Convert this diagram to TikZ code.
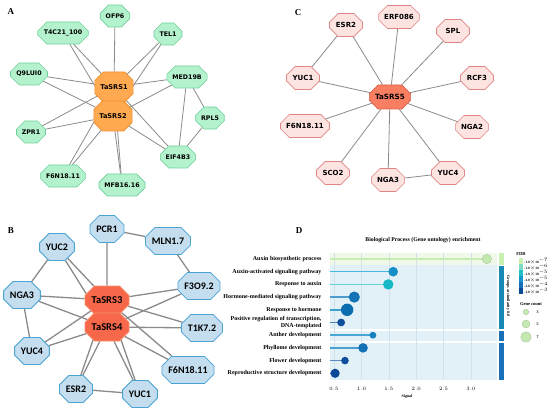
\documentclass[tikz,border=0pt]{standalone}
\usepackage{fontspec}
\setmainfont{Liberation Serif}
\newfontfamily\verdfont{DejaVu Sans}
\newfontfamily\califont{Carlito}
\usetikzlibrary{shapes.misc,backgrounds}

% node colours
\definecolor{mintfill}{HTML}{B4F2CE}
\definecolor{mintline}{HTML}{6CCF98}
\definecolor{orafill}{HTML}{FFAA50}
\definecolor{oraline}{HTML}{EE8F2E}
\definecolor{rosefill}{HTML}{FDE4E1}
\definecolor{roseline}{HTML}{E08585}
\definecolor{salmfill}{HTML}{FA7F62}
\definecolor{salmline}{HTML}{D9604A}
\definecolor{skyfill}{HTML}{C4DEEF}
\definecolor{skyline}{HTML}{4AA3D3}
\definecolor{redfill}{HTML}{F7674A}
\definecolor{redline}{HTML}{F8906F}
\definecolor{edgegray}{HTML}{8A8A8A}
% enrichment colours
\definecolor{bandgreen}{HTML}{F0F8EA}
\definecolor{bandblue}{HTML}{E2F0F7}
\definecolor{gridline}{HTML}{D3E2EA}
\definecolor{dot1}{HTML}{C3E8B0}
\definecolor{dot2}{HTML}{1590C4}
\definecolor{dot3}{HTML}{15B8C4}
\definecolor{dot4}{HTML}{1474B4}
\definecolor{dot5}{HTML}{0B6EAE}
\definecolor{dot6}{HTML}{0D4F9C}
\definecolor{dot7}{HTML}{1580C0}
\definecolor{dot8}{HTML}{1472B4}
\definecolor{dot9}{HTML}{0D4F9C}
\definecolor{dot10}{HTML}{0A4796}
\definecolor{stem1}{HTML}{C6ECB0}
\definecolor{stem2}{HTML}{48B8DC}
\definecolor{stem3}{HTML}{6AD0D8}
\definecolor{stem4}{HTML}{4C9CCC}
\definecolor{stem5}{HTML}{3DA0D0}
\definecolor{stem6}{HTML}{5080B8}
\definecolor{stem7}{HTML}{4AA8D8}
\definecolor{stem8}{HTML}{4AA0D0}
\definecolor{stem9}{HTML}{5A88C0}
\definecolor{stem10}{HTML}{3A70B0}
\definecolor{fdr1}{HTML}{C8F0B0}
\definecolor{fdr2}{HTML}{80DCC0}
\definecolor{fdr3}{HTML}{20C0C8}
\definecolor{fdr4}{HTML}{1898C8}
\definecolor{fdr5}{HTML}{1870B8}
\definecolor{fdr6}{HTML}{0C4898}

\begin{document}
\begin{tikzpicture}[x=1pt, y=-1pt,
octo/.style={chamfered rectangle, chamfered rectangle xsep=5pt, chamfered rectangle ysep=5pt, draw, inner xsep=2pt, inner ysep=1pt},
geneA/.style={octo, fill=mintfill, draw=mintline, line width=0.6pt, minimum width=28, minimum height=22, font=\verdfont\bfseries\fontsize{6.3}{7}\selectfont},
hubA/.style={octo, fill=orafill, draw=oraline, line width=0.6pt, minimum width=36, minimum height=30, font=\verdfont\bfseries\fontsize{6.6}{7}\selectfont},
geneC/.style={octo, fill=rosefill, draw=roseline, line width=0.6pt, minimum width=33, minimum height=23, font=\verdfont\bfseries\fontsize{7}{8}\selectfont},
hubC/.style={octo, fill=salmfill, draw=salmline, line width=0.6pt, minimum width=38, minimum height=24, font=\verdfont\bfseries\fontsize{7.2}{8}\selectfont},
geneB/.style={octo, fill=skyfill, draw=skyline, line width=0.8pt, minimum width=33, minimum height=27, font=\califont\bfseries\fontsize{10}{11}\selectfont},
hubB/.style={octo, fill=redfill, draw=redline, line width=0.8pt, minimum width=44, minimum height=28, font=\califont\bfseries\fontsize{10.5}{11}\selectfont},
linkA/.style={edgegray, line width=0.8pt},
linkB/.style={edgegray, line width=1.3pt},
panel/.style={font=\bfseries\fontsize{9}{10}\selectfont},
golabel/.style={anchor=east, align=right, font=\bfseries\fontsize{6}{6.4}\selectfont},
tiny/.style={font=\bfseries\fontsize{4}{4.5}\selectfont}
]
\useasboundingbox (0,0) rectangle (550,412);

% --- PANEL A ---
\node[panel] (labA) at (11,12) {A};
\node[geneA] (aOFP) at (115,16) {OFP6};
\node[geneA] (aT4C) at (63,33) {T4C21\_100};
\node[geneA] (aTEL) at (168,34) {TEL1};
\node[geneA] (aQ9L) at (29,74) {Q9LUI0};
\node[geneA] (aMED) at (187,77) {MED19B};
\node[geneA] (aRPL) at (210,118) {RPL5};
\node[geneA] (aZPR) at (31,132) {ZPR1};
\node[geneA] (aEIF) at (178,157) {EIF4B3};
\node[geneA] (aF6N) at (63,176) {F6N18.11};
\node[geneA] (aMFB) at (122,185) {MFB16.16};
\node[hubA] (aS1) at (114,87) {TaSRS1};
\node[hubA] (aS2) at (113,116) {TaSRS2};

\begin{scope}[on background layer]
\foreach \u/\v in {aOFP/aS1, aT4C/aS1, aT4C/aS2, aTEL/aS1, aTEL/aS2, aQ9L/aS1, aQ9L/aS2,
  aMED/aS1, aMED/aS2, aMED/aRPL, aMED/aEIF, aRPL/aEIF, aZPR/aS1, aZPR/aS2,
  aEIF/aS1, aEIF/aS2, aF6N/aS1, aF6N/aS2, aMFB/aS1, aMFB/aS2}
  \draw[linkA] (\u) -- (\v);
\end{scope}

% --- PANEL C ---
\node[panel] (labC) at (298,13) {C};
\node[geneC] (cESR) at (346,25) {ESR2};
\node[geneC] (cERF) at (399,17) {ERF086};
\node[geneC] (cSPL) at (453,31) {SPL};
\node[geneC] (cYUC1) at (303,78) {YUC1};
\node[geneC] (cRCF) at (477,78) {RCF3};
\node[geneC] (cF6N) at (305,126) {F6N18.11};
\node[geneC] (cNGA2) at (472,127) {NGA2};
\node[geneC] (cSCO) at (333,173) {SCO2};
\node[geneC] (cNGA3) at (388,180) {NGA3};
\node[geneC] (cYUC4) at (448,173) {YUC4};
\node[hubC] (cS5) at (390,97) {TaSRS5};

\begin{scope}[on background layer]
\foreach \u in {cESR, cERF, cSPL, cYUC1, cRCF, cF6N, cNGA2, cSCO, cNGA3, cYUC4}
  \draw[linkA] (\u) -- (cS5);
\draw[linkA] (cESR) -- (cYUC1);
\draw[linkA] (cNGA3) -- (cYUC4);
\end{scope}

% --- PANEL B ---
\node[panel] (labB) at (11,231) {B};
\node[geneB] (bPCR) at (107,229) {PCR1};
\node[geneB] (bMLN) at (168,241) {MLN1.7};
\node[geneB] (bYUC2) at (57,247) {YUC2};
\node[geneB] (bF3O) at (199,286) {F3O9.2};
\node[geneB] (bNGA3) at (22,295) {NGA3};
\node[geneB] (bT1K) at (202,328) {T1K7.2};
\node[geneB] (bYUC4) at (32,351) {YUC4};
\node[geneB] (bF6N) at (188,370) {F6N18.11};
\node[geneB] (bESR) at (76,389) {ESR2};
\node[geneB] (bYUC1) at (140,394) {YUC1};
\node[hubB] (bS3) at (107,300) {TaSRS3};
\node[hubB] (bS4) at (107,327) {TaSRS4};

\begin{scope}[on background layer]
\foreach \u/\v in {bPCR/bS3, bPCR/bMLN, bMLN/bF3O, bYUC2/bS3, bYUC2/bS4, bYUC2/bNGA3,
  bNGA3/bS3, bNGA3/bS4, bNGA3/bYUC4, bF3O/bS3, bF3O/bS4, bT1K/bS3, bT1K/bS4,
  bYUC4/bS3, bYUC4/bS4, bF6N/bS3, bF6N/bS4, bESR/bS3, bESR/bS4, bESR/bYUC1,
  bYUC1/bS3, bYUC1/bS4}
  \draw[linkB] (\u) -- (\v);
\end{scope}

% --- PANEL D ---
\node[panel] (labD) at (299,231) {D};
\node[font=\bfseries\fontsize{5.8}{6}\selectfont] (title) at (423,240) {Biological Process (Gene ontology) enrichment};

% group bands
\fill[bandgreen] (330,253) rectangle (497,265);
\fill[bandblue] (330,265) rectangle (497,328.7);
\fill[bandblue] (330,330.5) rectangle (497,341);
\fill[bandblue] (330,342.8) rectangle (497,379.5);
\foreach \t in {0.5,1.0,...,3.0}
  \draw[gridline, line width=0.3pt] ({306.6+54.8*\t},253) -- ({306.6+54.8*\t},379.5);
\fill[fdr1] (499,253) rectangle (504,265);
\fill[fdr4!90!black] (499,266) rectangle (504,328.7);
\fill[fdr5] (499,330.5) rectangle (504,341);
\fill[fdr5] (499,342.8) rectangle (504,379.5);
\node[tiny, rotate=-90] (groups) at (508,296) {Groups at similarity 0.8};

% lollipops
\foreach \i/\v/\r in {1/3.29/4.7, 2/1.58/4.8, 3/1.49/5.2, 4/0.87/5.6, 5/0.74/6.2,
  6/0.63/3.9, 7/1.21/3.4, 8/1.03/4.8, 9/0.70/3.8, 10/0.52/4.6}{
  \pgfmathsetmacro\yy{259+(\i-1)*12.7}
  \draw[stem\i, line width=1.5pt] (330,\yy) -- ({306.6+54.8*\v},\yy);
  \fill[dot\i] ({306.6+54.8*\v},\yy) circle (\r);
}
\draw[dot1!70!gray, line width=0.4pt] ({306.6+54.8*3.29},259) circle (4.7);

% term labels
\foreach \i/\txt in {1/Auxin biosynthetic process, 2/Auxin-activated signaling pathway,
  3/Response to auxin, 4/Hormone-mediated signaling pathway, 5/Response to hormone,
  6/{Positive regulation of transcription,\\DNA-templated}, 7/Anther development,
  8/Phyllome development, 9/Flower development, 10/Reproductive structure development}
  \node[golabel] (term\i) at (325,{259+(\i-1)*12.7}) {\txt};

% axis
\foreach \t in {0.5,1.0,...,3.0}
  \node[tiny] at ({306.6+54.8*\t},389) {\pgfmathprintnumber[fixed,precision=1,fixed zerofill]{\t}};
\node[tiny] (axis) at (407,397) {Signal};

% legend
\node[font=\bfseries\fontsize{4.5}{5}\selectfont] (fdr) at (521,254) {FDR};
\foreach \k/\m/\e in {1/1.0/7, 2/1.0/6, 3/1.0/5, 4/2.0/5, 5/2.0/4, 6/3.0/3}{
  \fill[fdr\k] (519,{258+(\k-1)*6}) rectangle (523,{264+(\k-1)*6});
  \node[anchor=west, font=\bfseries\fontsize{3.4}{4}\selectfont, inner sep=0.3pt] at (523.5,{261+(\k-1)*6}) {-\,\m{$\times$}10$^{-\e}$};
}
\node[font=\bfseries\fontsize{4.5}{5}\selectfont] (count) at (531,304) {Gene count};
\foreach \n/\y/\r in {3/312/2.8, 5/324/4, 7/337/5.3}{
  \filldraw[fill=dot1, draw=dot1!60!gray, line width=0.3pt] (526,\y) circle (\r);
  \node[tiny, anchor=west] at (533,\y) {\n};
}
\end{tikzpicture}
\end{document}
